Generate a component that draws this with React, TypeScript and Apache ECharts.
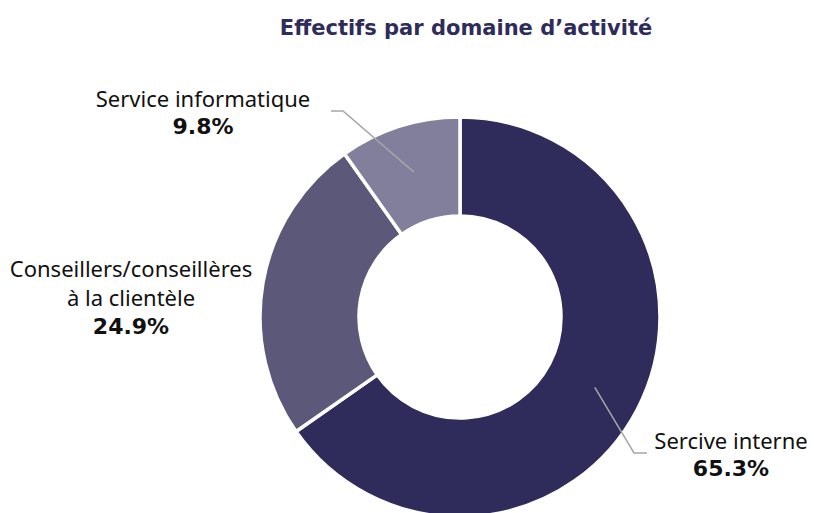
import React, { useEffect, useRef } from 'react';
import * as echarts from 'echarts';

const categories = ['Sercive interne', 'Conseillers/conseillères\nà la clientèle', 'Service informatique'];
const values = [65.3, 24.9, 9.8];
const colors = ['#2f2c5b', '#5b5879', '#827f9d'];
const TITLE = 'Effectifs par domaine d’activité';

// layout (not data)
const CX = 460;
const CY = 317;
const R0 = 101;
const R = 200;
const LINE_START_R = 152;
const labelAnchors: number[][] = [[731, 454], [131, 297], [203, 112]];
const lineBends: (number[] | null)[] = [[634, 453, 647], null, [343, 111, 331]];

export default function App() {
  const ref = useRef<HTMLDivElement>(null);
  useEffect(() => {
    if (!ref.current) return;
    const chart = echarts.init(ref.current, undefined, { renderer: 'svg' });
    const total = values.reduce((a, b) => a + b, 0);
    const cum: number[] = [];
    let acc = 0;
    values.forEach((v) => { cum.push(acc); acc += v; });

    const base = {
      type: 'pie',
      center: [CX, CY],
      radius: [R0, R],
      startAngle: 90,
      clockwise: true,
      avoidLabelOverlap: false,
    };

    chart.setOption({
      animation: false,
      title: {
        text: TITLE,
        left: 461,
        top: 12,
        textAlign: 'center',
        textStyle: { fontFamily: 'DejaVu Sans', fontWeight: 'bold', fontSize: 21, color: '#2f2c5b' },
      },
      series: [
        {
          ...base,
          z: 1,
          itemStyle: { borderColor: '#ffffff', borderWidth: 3.5 },
          label: { show: false },
          labelLine: { show: false },
          data: categories.map((name, i) => ({
            name,
            value: values[i],
            itemStyle: { color: colors[i] },
          })),
        },
        {
          ...base,
          z: 3,
          silent: true,
          itemStyle: { color: 'rgba(0,0,0,0)', borderWidth: 0 },
          label: {
            show: true,
            position: 'outside',
            formatter: (p: any) => `{n|${p.name}}\n{v|${Number(p.value).toFixed(1)}%}`,
            rich: {
              n: { fontFamily: 'Noto Sans', fontSize: 22, lineHeight: 29, color: '#111111', align: 'center' },
              v: { fontFamily: 'DejaVu Sans', fontWeight: 'bold', fontSize: 22, lineHeight: 29, color: '#111111', align: 'center' },
            },
          },
          labelLine: { show: true, lineStyle: { color: '#a6a6a6', width: 1.5 } },
          labelLayout: (params: any) => {
            const i = params.dataIndex;
            const [x, y] = labelAnchors[i];
            const out: any = { x, y, align: 'center', verticalAlign: 'middle' };
            const bend = lineBends[i];
            if (bend) {
              const f = (cum[i] + values[i] / 2) / total;
              const t = f * Math.PI * 2;
              const sx = CX + LINE_START_R * Math.sin(t);
              const sy = CY - LINE_START_R * Math.cos(t);
              out.labelLinePoints = [[sx, sy], [bend[0], bend[1]], [bend[2], bend[1]]];
            }
            return out;
          },
          data: categories.map((name, i) => ({
            name,
            value: values[i],
            labelLine: { show: lineBends[i] != null },
          })),
        },
      ],
    });
    return () => chart.dispose();
  }, []);
  return <div ref={ref} style={{ position: 'absolute', left: 0, top: 0, width: 814, height: 513 }} />;
}
